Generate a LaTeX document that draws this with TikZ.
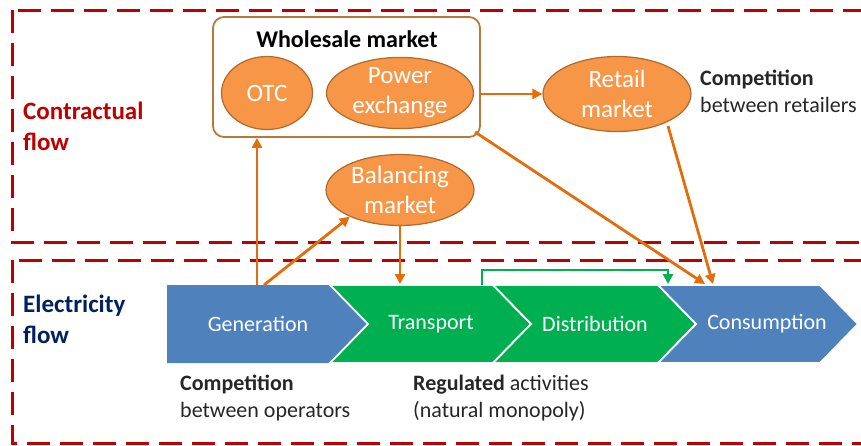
\documentclass[tikz,border=0pt]{standalone}
\usepackage{fontspec}
\setmainfont{Carlito}
\usetikzlibrary{arrows.meta,shapes.geometric}
\definecolor{dred}{HTML}{C00000}
\definecolor{navy}{HTML}{002060}
\definecolor{obar}{HTML}{F79646}
\definecolor{oedge}{HTML}{B0692C}
\definecolor{oline}{HTML}{E46C0A}
\definecolor{wbox}{HTML}{B9773A}
\definecolor{cblue}{HTML}{4F81BD}
\definecolor{cgreen}{HTML}{00B050}
\definecolor{txt}{HTML}{262626}
\tikzset{
  flowbox/.style={draw=dred, line width=3pt, dash pattern=on 23pt off 10pt},
  mkt/.style={ellipse, draw=oedge, line width=1.2pt, fill=obar, text=white, inner sep=0pt,
    align=center, font=\fontsize{25}{30}\selectfont},
  orarrow/.style={draw=oline, line width=2.8pt, -{Triangle[length=10pt,width=10pt]}},
  grarrow/.style={draw=cgreen, line width=2.6pt, -{Triangle[length=10pt,width=10pt]}},
  chev/.style={draw=white, line width=1.8pt, line join=miter},
  chevtext/.style={text=white, font=\fontsize{22}{26}\selectfont},
  lbl/.style={text=txt, align=left, font=\fontsize{22}{27}\selectfont, inner sep=0pt},
  flowlbl/.style={align=left, font=\bfseries\fontsize{25}{31}\selectfont, inner sep=0pt}
}
\begin{document}
\begin{tikzpicture}[x=1pt,y=-1pt]
\useasboundingbox (0,0) rectangle (861,445);
\clip (0,0) rectangle (861,445);
% dashed flow boxes
\draw[flowbox] (12,10) rectangle (900,242);
\draw[flowbox] (12,260) rectangle (900,443);
\node[flowlbl, text=dred, anchor=west] (cflow) at (23,126) {Contractual\\flow};
\node[flowlbl, text=navy, anchor=west] (eflow) at (23,319) {Electricity\\flow};

% chevrons
\fill[cblue] (167,285) -- (330,285) -- (368,324) -- (330,363) -- (167,363) -- cycle;
\draw[chev, fill=cgreen] (330,285) -- (493,285) -- (531,324) -- (493,363) -- (330,363) -- (368,324) -- cycle;
\draw[chev, fill=cgreen] (493,285) -- (658,285) -- (696,324) -- (658,363) -- (493,363) -- (531,324) -- cycle;
\draw[chev, fill=cblue] (658,285) -- (820,285) -- (858,324) -- (820,363) -- (658,363) -- (696,324) -- cycle;
\node[chevtext] (gen) at (258,324) {Generation};
\node[chevtext] (tra) at (431,324) {Transport};
\node[chevtext] (dis) at (595,324) {Distribution};
\node[chevtext] (con) at (767,324) {Consumption};

% wholesale box
\node[draw=wbox, line width=1.8pt, rounded corners=11pt, minimum width=267pt, minimum height=120pt] (wm) at (346.5,77) {};
\node[font=\bfseries\fontsize{24}{28}\selectfont, text=black] (wmt) at (347,39) {Wholesale market};
\node[mkt, minimum width=91pt, minimum height=73pt] (otc) at (267,93) {OTC};
\node[mkt, minimum width=147pt, minimum height=71pt] (pex) at (400,93) {Power\\exchange};
\node[mkt, minimum width=148pt, minimum height=75pt] (ret) at (617,94) {Retail\\market};
\node[mkt, minimum width=148pt, minimum height=71pt] (bal) at (400,190) {Balancing\\market};

% labels
\node[lbl, anchor=west] (cr) at (700,91) {\textbf{Competition}\\between retailers};
\node[lbl, anchor=west] (co) at (180,398) {\textbf{Competition}\\between operators};
\node[lbl, anchor=west] (ra) at (413,398) {\textbf{Regulated} activities\\(natural monopoly)};

% connector coordinates
\coordinate (g1) at (257,285);
\coordinate (g2) at (264,285);
\coordinate (t1) at (400,284);
\coordinate (c1) at (705,284);
\coordinate (c2) at (713,284);
\coordinate (wmc) at (475,132);
\coordinate (rc) at (668,126);
\coordinate (t2) at (482,285);
\coordinate (d2) at (668,284);

\draw[orarrow] (g1) -- (g1 |- wm.south);
\draw[orarrow] (g2) -- (bal.208);
\draw[orarrow] (bal.south) -- (t1);
\draw[orarrow] (wm.east |- ret.west) -- (ret.west);
\draw[orarrow] (wmc) -- (c1);
\draw[orarrow] (rc) -- (c2);
\draw[grarrow] (t2) -- ++(0,-15) -| (d2);
\end{tikzpicture}
\end{document}
